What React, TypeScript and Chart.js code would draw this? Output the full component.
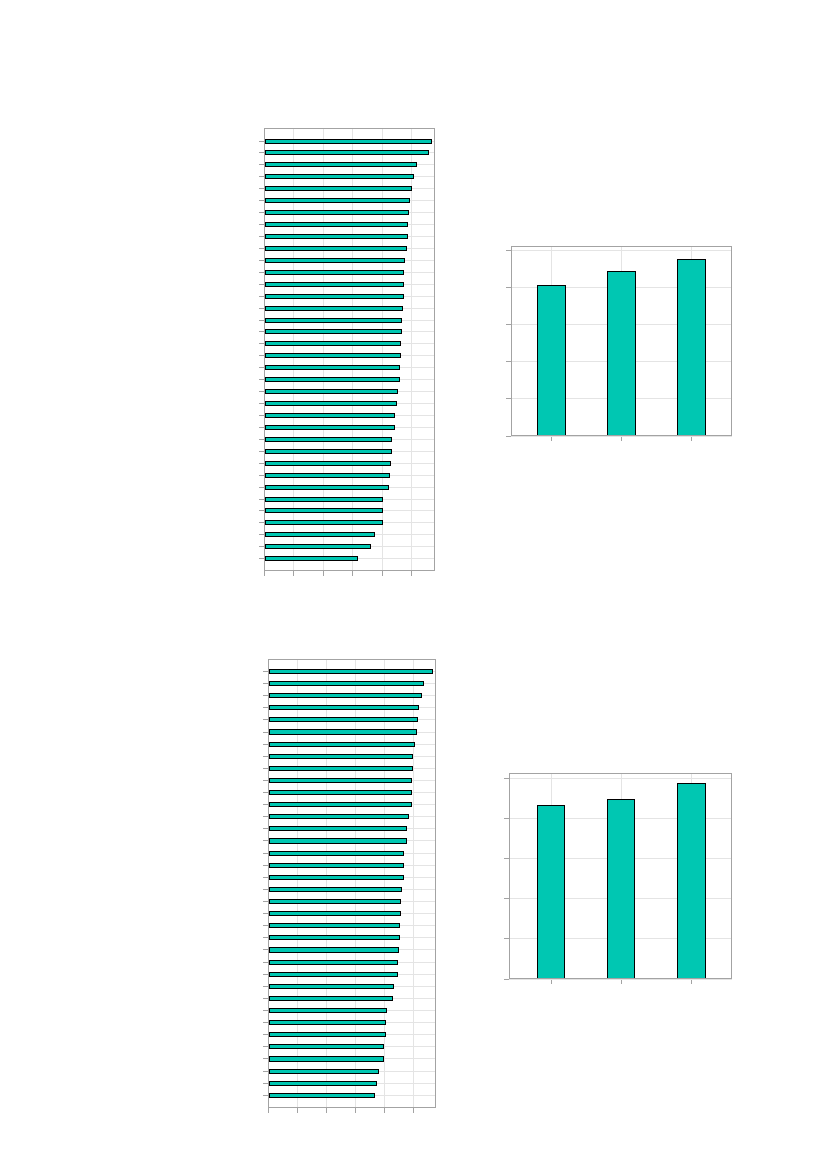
import { useEffect, useRef } from 'react'
import { Chart, registerables } from 'chart.js'

Chart.register(...registerables)

// bar lengths, top to bottom (no labels are printed on the source figure)
const PANEL_A_VALUES = [
  5.69, 5.59, 5.17, 5.07, 5.0, 4.93, 4.9, 4.86, 4.86, 4.83, 4.76, 4.73,
  4.73, 4.73, 4.7, 4.66, 4.66, 4.63, 4.63, 4.59, 4.59, 4.53, 4.49, 4.43,
  4.43, 4.32, 4.32, 4.29, 4.26, 4.22, 4.02, 4.02, 4.02, 3.75, 3.61, 3.18,
]
const PANEL_B_VALUES = [
  5.7, 5.39, 5.31, 5.21, 5.17, 5.14, 5.07, 5.0, 5.0, 4.97, 4.97, 4.97,
  4.86, 4.79, 4.79, 4.69, 4.69, 4.69, 4.62, 4.59, 4.59, 4.55, 4.55, 4.52,
  4.48, 4.48, 4.34, 4.31, 4.1, 4.07, 4.07, 4.0, 4.0, 3.83, 3.76, 3.69,
]
// group means, left to right
const PANEL_C_VALUES = [4.07, 4.45, 4.78]
const PANEL_D_VALUES = [4.33, 4.48, 4.88]

const FILL = '#00C7B2'
const FRAME = '#a3a3a3'
const GRID = '#e4e4e4'

// grey box round the plot area
const framePlugin = {
  id: 'frame',
  afterDraw(chart: Chart) {
    const { ctx, chartArea: a } = chart
    ctx.save()
    ctx.strokeStyle = FRAME
    ctx.lineWidth = 1
    ctx.strokeRect(Math.round(a.left) + 0.5, Math.round(a.top) + 0.5, Math.round(a.right - a.left) - 1, Math.round(a.bottom - a.top) - 1)
    ctx.restore()
  },
}

// round bar edges to whole pixels so the thin black outlines stay crisp
const snapPlugin = {
  id: 'snap',
  beforeDatasetsDraw(chart: Chart) {
    const horizontal = chart.options.indexAxis === 'y'
    chart.getDatasetMeta(0).data.forEach((el: any) => {
      if (horizontal) {
        const top = Math.round(el.y - el.height / 2)
        const bottom = Math.round(el.y + el.height / 2)
        el.y = (top + bottom) / 2
        el.height = bottom - top
        el.x = Math.round(el.x)
        el.base = Math.round(el.base)
      } else {
        const left = Math.round(el.x - el.width / 2)
        const right = Math.round(el.x + el.width / 2)
        el.x = (left + right) / 2
        el.width = right - left
        el.y = Math.round(el.y)
        el.base = Math.round(el.base) + 1
      }
    })
  },
}

type PanelProps = {
  values: number[]
  horizontal: boolean
  valueMax: number
  indexMin: number
  indexMax: number
  thickness: number
  box: { left: number; top: number; right: number; bottom: number }
}

function BarPanel({ values, horizontal, valueMax, indexMin, indexMax, thickness, box }: PanelProps) {
  const canvasRef = useRef<HTMLCanvasElement>(null)

  useEffect(() => {
    if (!canvasRef.current) return
    const n = values.length
    const points = values.map((v, i) => (horizontal ? { x: v, y: i } : { x: i, y: v }))

    const gridOpts = { color: GRID, tickColor: FRAME, tickLength: 5, drawTicks: true, lineWidth: 1, offset: false }
    const valueAxis = {
      type: 'linear' as const,
      min: 0,
      max: valueMax,
      ticks: { display: false, stepSize: 1, includeBounds: false },
      grid: gridOpts,
      border: { display: false },
    }
    const indexAxis = {
      type: 'linear' as const,
      min: indexMin,
      max: indexMax,
      offset: false,
      reverse: horizontal,
      ticks: { display: false, stepSize: 1, includeBounds: false },
      grid: gridOpts,
      border: { display: false },
      afterBuildTicks: (axis: any) => {
        axis.ticks = axis.ticks.filter((t: any) => t.value >= 0 && t.value <= n - 1)
      },
    }

    const chart = new Chart(canvasRef.current, {
      type: 'bar',
      data: {
        datasets: [{
          data: points as any,
          backgroundColor: FILL,
          borderColor: '#000000',
          borderWidth: 1,
          borderSkipped: false,
          barPercentage: 1,
          categoryPercentage: thickness,
        }],
      },
      options: {
        indexAxis: horizontal ? 'y' : 'x',
        animation: false,
        responsive: true,
        maintainAspectRatio: false,
        layout: { padding: 4 },
        plugins: { legend: { display: false }, tooltip: { enabled: false } },
        scales: horizontal ? { x: valueAxis, y: indexAxis } : { x: indexAxis, y: valueAxis },
      },
      plugins: [snapPlugin, framePlugin],
    })

    return () => chart.destroy()
  }, [values, horizontal, valueMax, indexMin, indexMax, thickness])

  // canvas = plot box + 4px padding all round + 5px tick marks on left and bottom
  const style: React.CSSProperties = {
    position: 'absolute',
    left: box.left - 9,
    top: box.top - 4,
    width: box.right - box.left + 13,
    height: box.bottom - box.top + 13,
  }
  return (
    <div style={style}>
      <canvas ref={canvasRef} />
    </div>
  )
}

export default function App() {
  return (
    <div style={{ position: 'absolute', left: 0, top: 0, width: 827, height: 1169, background: '#fff' }}>
      <BarPanel values={PANEL_A_VALUES} horizontal valueMax={5.78} indexMin={-1.09} indexMax={36.03}
        thickness={0.42} box={{ left: 264, top: 128, right: 435, bottom: 571 }} />
      <BarPanel values={PANEL_B_VALUES} horizontal valueMax={5.79} indexMin={-1.03} indexMax={36.05}
        thickness={0.42} box={{ left: 268, top: 659, right: 436, bottom: 1108 }} />
      <BarPanel values={PANEL_C_VALUES} horizontal={false} valueMax={5.135} indexMin={-0.58} indexMax={2.58}
        thickness={0.405} box={{ left: 511, top: 246, right: 732, bottom: 436 }} />
      <BarPanel values={PANEL_D_VALUES} horizontal={false} valueMax={5.14} indexMin={-0.6} indexMax={2.58}
        thickness={0.405} box={{ left: 509, top: 773, right: 732, bottom: 979 }} />
    </div>
  )
}
